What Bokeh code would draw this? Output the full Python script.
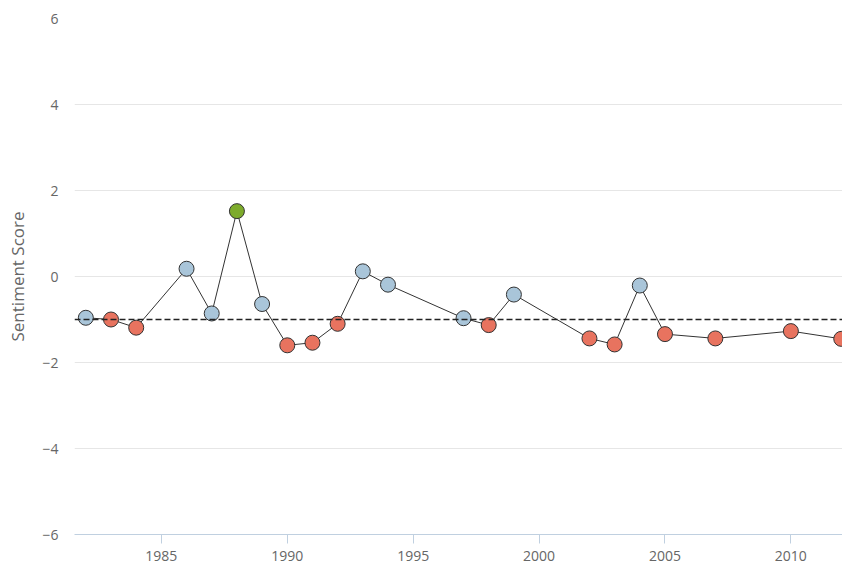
from bokeh.plotting import figure
from bokeh.models import ColumnDataSource, Range1d, FixedTicker, Span
from bokeh.embed import file_html
from bokeh.resources import INLINE

years = [1982, 1983, 1984, 1986, 1987, 1988, 1989, 1990, 1991, 1992, 1993, 1994,
         1997, 1998, 1999, 2002, 2003, 2004, 2005, 2007, 2010, 2012]
scores = [-0.96, -1.0, -1.19, 0.18, -0.86, 1.52, -0.64, -1.6, -1.54, -1.1, 0.12, -0.19,
          -0.97, -1.13, -0.42, -1.44, -1.58, -0.21, -1.34, -1.44, -1.27, -1.45]
sentiment = ["neutral", "negative", "negative", "neutral", "neutral", "positive", "neutral",
             "negative", "negative", "negative", "neutral", "neutral", "neutral", "negative",
             "neutral", "negative", "negative", "neutral", "negative", "negative", "negative",
             "negative"]
baseline = -1.0
x_ticks = [1985, 1990, 1995, 2000, 2005, 2010]
y_ticks = [-6, -4, -2, 0, 2, 4, 6]
y_tick_labels = ["\u22126", "\u22124", "\u22122", "0", "2", "4", "6"]

palette = {"neutral": "#a9c5d9", "negative": "#e8735f", "positive": "#7dab2b"}
colors = [palette[s] for s in sentiment]

src = ColumnDataSource(dict(x=years, y=scores, c=colors))

p = figure(width=842, height=563, output_backend="svg", toolbar_location=None,
           x_range=Range1d(1981.55, 2012.05), y_range=Range1d(-6, 6),
           min_border_left=74, min_border_right=0, min_border_top=18, min_border_bottom=29)
p.outline_line_color = None
p.background_fill_color = "white"

font = "Open Sans"
# axes
p.xaxis.ticker = FixedTicker(ticks=x_ticks)
p.xaxis.axis_line_color = "#c0d0e0"
p.xaxis.major_tick_line_color = "#c0d0e0"
p.xaxis.major_tick_out = 9
p.xaxis.major_tick_in = 0
p.xaxis.minor_tick_line_color = None
p.xaxis.major_label_text_font = font
p.xaxis.major_label_text_font_size = "14px"
p.xaxis.major_label_text_color = "#666666"
p.xaxis.major_label_standoff = 7

p.yaxis.ticker = FixedTicker(ticks=y_ticks)
p.yaxis.major_label_overrides = {t: l for t, l in zip(y_ticks, y_tick_labels)}
p.yaxis.axis_line_color = None
p.yaxis.major_tick_line_color = None
p.yaxis.minor_tick_line_color = None
p.yaxis.major_tick_out = 0
p.yaxis.major_label_standoff = 16
p.yaxis.major_label_text_font = font
p.yaxis.major_label_text_font_size = "14px"
p.yaxis.major_label_text_color = "#666666"
p.yaxis.axis_label = "Sentiment Score"
p.yaxis.axis_label_text_font = font
p.yaxis.axis_label_text_font_size = "17px"
p.yaxis.axis_label_text_font_style = "normal"
p.yaxis.axis_label_text_color = "#666666"
p.yaxis.axis_label_standoff = 10

p.xgrid.grid_line_color = None
p.ygrid.grid_line_color = "#e6e6e6"

p.add_layout(Span(location=baseline, dimension="width", line_color="#222222",
                  line_width=1.5, line_dash="6 3"))

p.line("x", "y", source=src, line_color="#333333", line_width=1)
p.scatter("x", "y", source=src, size=15, fill_color="c", line_color="#333333", line_width=1)

open("out.html", "w").write(file_html(p, INLINE))
